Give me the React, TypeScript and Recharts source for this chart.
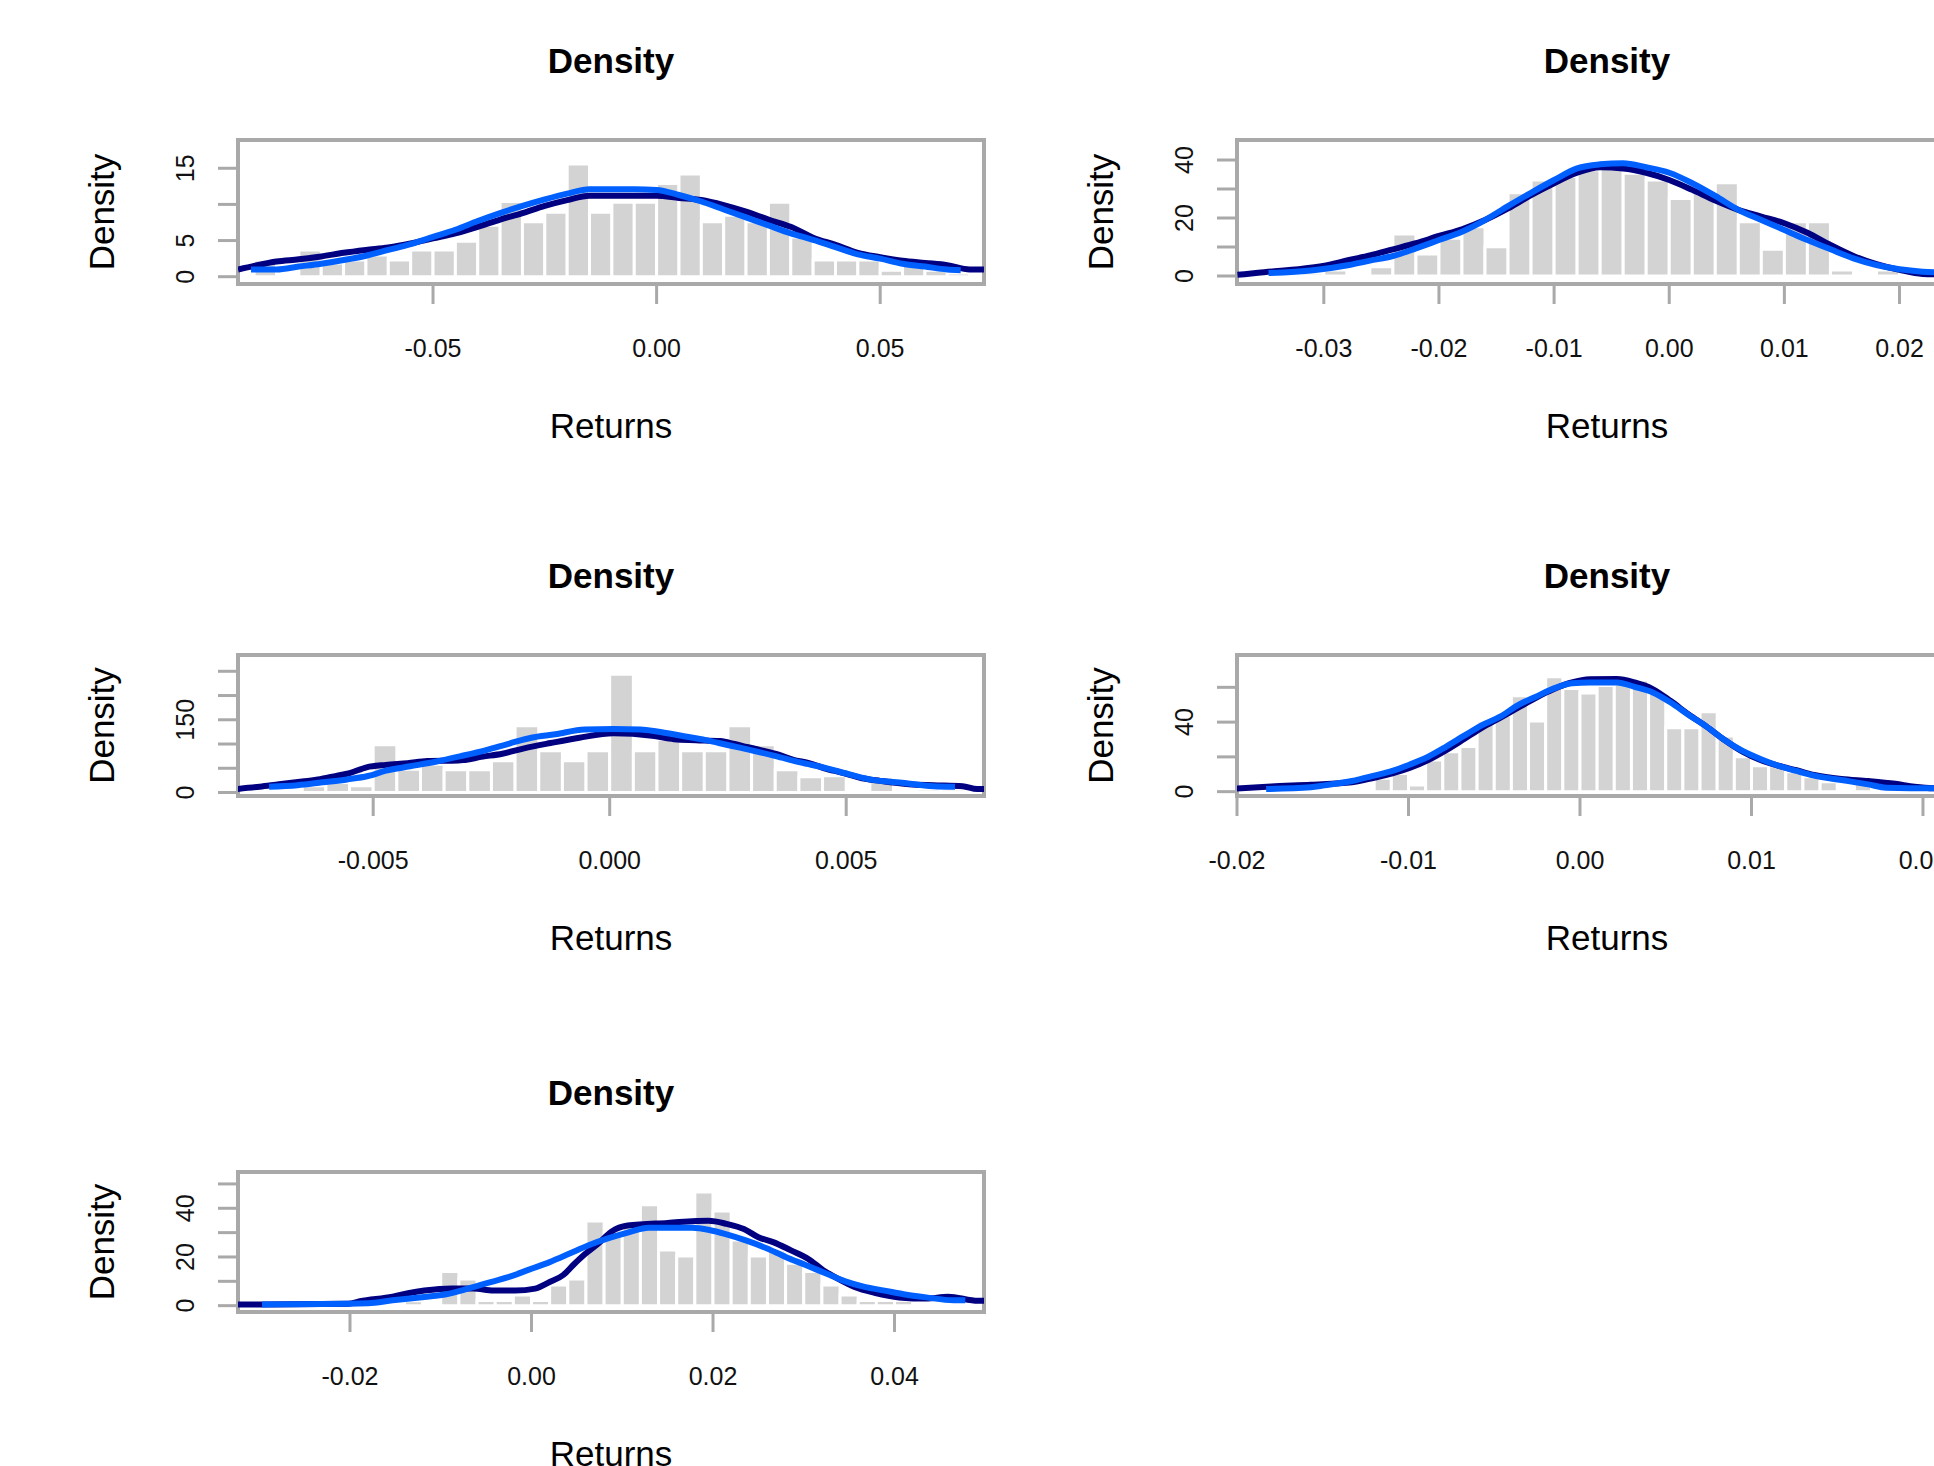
import { ComposedChart, Line, ReferenceArea, XAxis, YAxis } from "recharts";

const FONT = '"Liberation Sans", Arial, Helvetica, sans-serif';
const AXIS_GRAY = "#A9A9A9";
const BAR_GRAY = "#D3D3D3";
const KDE_COLOR = "#000080";
const FIT_COLOR = "#0060FF";

// ---- panel 1 ----
const p1BinStart = -0.09;
const p1BinWidth = 0.005;
const p1Density = [
  2.3, 0, 3.7, 1.9, 2.3, 3.0, 2.3, 3.7, 3.7, 4.9, 7.1, 10.4, 7.6, 8.9, 15.6, 8.9,
  10.3, 10.3, 12.9, 14.2, 7.6, 8.5, 7.6, 10.3, 5.5, 2.3, 2.3, 2.3, 0.9, 1.6, 0.9, 0.5,
];
const p1KdeX = [
  -0.0936, -0.09, -0.085, -0.08, -0.075, -0.07, -0.065, -0.06, -0.055, -0.05, -0.045,
  -0.04, -0.035, -0.03, -0.025, -0.02, -0.015, -0.01, -0.005, 0, 0.005, 0.01, 0.015,
  0.02, 0.025, 0.03, 0.035, 0.04, 0.045, 0.05, 0.055, 0.06, 0.065, 0.07, 0.0732,
];
const p1KdeY = [
  1.0, 1.5, 2.1, 2.4, 2.8, 3.3, 3.7, 4.05, 4.6, 5.3, 6.0, 6.9, 7.9, 8.8, 9.8, 10.6,
  11.2, 11.2, 11.2, 11.2, 10.9, 10.6, 9.9, 9.0, 7.9, 6.9, 5.4, 4.4, 3.3, 2.7, 2.2, 1.9,
  1.6, 1.0, 1.0,
];
const p1FitX = [
  -0.0907, -0.085, -0.08, -0.075, -0.07, -0.065, -0.06, -0.055, -0.05, -0.045, -0.04,
  -0.035, -0.03, -0.025, -0.02, -0.015, -0.01, -0.005, 0, 0.005, 0.01, 0.015, 0.02,
  0.025, 0.03, 0.035, 0.04, 0.045, 0.05, 0.055, 0.06, 0.065, 0.068,
];
const p1FitY = [
  1.0, 1.0, 1.4, 1.8, 2.3, 2.9, 3.7, 4.5, 5.5, 6.5, 7.7, 8.8, 9.8, 10.7, 11.5, 12.1,
  12.1, 12.1, 12.0, 11.3, 10.4, 9.3, 8.2, 7.1, 6.0, 5.1, 4.1, 3.1, 2.5, 1.8, 1.4, 1.0, 0.9,
];
const p1XTicks = [-0.05, 0, 0.05];
const p1XLabels = ["-0.05", "0.00", "0.05"];
const p1YTicks = [0, 5, 10, 15];
const p1YLabels = ["0", "5", "", "15"];

// ---- panel 2 ----
const p2BinStart = -0.032;
const p2BinWidth = 0.002;
const p2Density = [
  1.1, 2.1, 0, 3.2, 14.5, 7.6, 13.0, 17.0, 10.1, 28.7, 33.1, 34.3, 36.6, 37.7, 35.4,
  33.1, 26.7, 29.1, 32.2, 18.7, 9.2, 18.7, 18.7, 2.1, 0, 2.1,
];
const p2KdeX = [
  -0.0375, -0.0357, -0.0317, -0.0296, -0.0278, -0.026, -0.024, -0.022, -0.02, -0.018,
  -0.016, -0.014, -0.012, -0.01, -0.008, -0.006, -0.004, -0.002, 0, 0.002, 0.004, 0.006,
  0.008, 0.01, 0.012, 0.014, 0.016, 0.018, 0.02, 0.022, 0.0267,
];
const p2KdeY = [
  0.4, 1.1, 2.6, 3.8, 5.5, 7.1, 9.2, 11.3, 13.8, 16.1, 19.3, 23.3, 27.9, 32.0, 35.6,
  37.5, 37.1, 35.6, 33.1, 29.7, 26.0, 22.8, 20.5, 18.2, 14.9, 10.7, 6.9, 4.1, 2.1, 0.7, 0.3,
];
const p2FitX = [
  -0.0348, -0.0309, -0.0278, -0.026, -0.024, -0.022, -0.02, -0.018, -0.016, -0.014,
  -0.012, -0.01, -0.008, -0.006, -0.004, -0.002, 0, 0.002, 0.004, 0.006, 0.008, 0.01,
  0.012, 0.014, 0.016, 0.018, 0.02, 0.022, 0.0267,
];
const p2FitY = [
  1.0, 2.0, 3.8, 5.3, 6.9, 9.5, 12.4, 15.3, 19.3, 24.1, 28.7, 33.1, 37.1, 38.5, 38.9,
  37.5, 35.6, 32.0, 27.6, 22.8, 19.3, 15.9, 12.4, 9.2, 6.1, 3.8, 2.3, 1.5, 0.9,
];
const p2XTicks = [-0.03, -0.02, -0.01, 0, 0.01, 0.02];
const p2XLabels = ["-0.03", "-0.02", "-0.01", "0.00", "0.01", "0.02"];
const p2YTicks = [0, 10, 20, 30, 40];
const p2YLabels = ["0", "", "20", "", "40"];

// ---- panel 3 ----
const p3BinStart = -0.0075;
const p3BinWidth = 0.0005;
const p3Density = [
  5.5, 0, 13.7, 20.6, 13.7, 98.3, 48.1, 58.4, 46.8, 46.8, 65.3, 137.5, 85.9, 65.3, 85.9,
  244, 85.9, 110, 85.9, 85.9, 137.5, 98.3, 46.8, 32.3, 34.4, 0, 32.3, 0, 6.9, 6.9,
];
const p3KdeX = [
  -0.00791, -0.0074, -0.00699, -0.0065, -0.00612, -0.00578, -0.0055, -0.00514, -0.00473,
  -0.00427, -0.00386, -0.0032, -0.00268, -0.00227, -0.00181, -0.00125, -0.00064, 0.00008,
  0.0009, 0.00136, 0.00182, 0.00234, 0.00264, 0.0029, 0.00321, 0.00357, 0.00387, 0.00423,
  0.00454, 0.0049, 0.00531, 0.00572, 0.00633, 0.00684, 0.00746, 0.00777, 0.00797,
];
const p3KdeY = [
  6.9, 12, 17, 22.7, 27.5, 34.4, 40, 52, 57, 60.5, 65, 66, 74, 80, 91, 102, 113, 122,
  117, 110, 108, 106, 100, 94, 87, 78, 68, 60, 50, 41, 30, 24, 17, 15, 13, 7, 7,
];
const p3FitX = [
  -0.0072, -0.0066, -0.00607, -0.00555, -0.00511, -0.00473, -0.00422, -0.00366, -0.00315,
  -0.00263, -0.00212, -0.00166, -0.00115, -0.00053, 0.00008, 0.00065, 0.001, 0.00157,
  0.00203, 0.00249, 0.003, 0.00351, 0.00403, 0.00454, 0.00505, 0.00556, 0.00613, 0.00684,
  0.0073,
];
const p3FitY = [
  12, 15, 21, 27, 34, 45, 54, 64, 75, 87, 101, 113, 120, 130, 131, 130, 126, 116, 108,
  98, 87, 75, 62, 51, 38, 26, 20.6, 13, 12,
];
const p3XTicks = [-0.005, 0, 0.005];
const p3XLabels = ["-0.005", "0.000", "0.005"];
const p3YTicks = [0, 50, 100, 150, 200, 250];
const p3YLabels = ["0", "", "", "150", "", ""];

// ---- panel 4 ----
const p4BinStart = -0.016;
const p4BinWidth = 0.001;
const p4Density = [
  1.5, 0, 1.5, 1.5, 7.7, 10.5, 3.8, 18.2, 23, 25.9, 40.6, 44, 55.2, 40.6, 66.1, 59.4,
  56.7, 61, 62, 64.2, 56.5, 36.8, 36.8, 46, 32, 20.1, 14.9, 14.9, 11.5, 8.6, 5.7, 0, 7.3, 1.5,
];
const p4KdeX = [
  -0.0201, -0.018, -0.0157, -0.0133, -0.012, -0.01094, -0.0099, -0.00885, -0.0078,
  -0.00675, -0.00571, -0.00466, -0.00361, -0.00257, -0.00152, -0.00047, 0.00058, 0.00215,
  0.00319, 0.00424, 0.00529, 0.00634, 0.00738, 0.00843, 0.00948, 0.01052, 0.01157,
  0.01262, 0.01366, 0.01524, 0.01681, 0.01838, 0.0195, 0.0207, 0.0232,
];
const p4KdeY = [
  1.7, 3.0, 4.0, 5.4, 8.0, 10.5, 13.8, 18.2, 23.9, 30.3, 36.8, 42.5, 48.3, 54, 59, 62.8,
  64.6, 64.8, 62.8, 59, 52.1, 44.4, 37.4, 29.7, 23, 18.2, 14.9, 12.3, 9.6, 7.3, 6.1, 4.5,
  2.8, 1.9, 1.7,
];
const p4FitX = [
  -0.0183, -0.0157, -0.0149, -0.0133, -0.012, -0.01094, -0.0099, -0.00885, -0.0078,
  -0.00675, -0.00571, -0.00466, -0.00361, -0.00257, -0.00152, -0.00047, 0.00058, 0.00215,
  0.00319, 0.00424, 0.00529, 0.00634, 0.00738, 0.00843, 0.00948, 0.01052, 0.01157,
  0.01262, 0.01366, 0.01524, 0.01681, 0.01785, 0.0207, 0.0232,
];
const p4FitY = [
  1.5, 2.5, 3.6, 6.1, 9.2, 11.9, 15.7, 20.1, 25.9, 32.2, 38.3, 43.1, 49.8, 54.6, 59.4,
  62.3, 62.8, 62.8, 60.3, 57.1, 51.3, 44.1, 37.4, 29.7, 23.4, 18.8, 14.9, 11.9, 9.2, 6.7,
  4.2, 2.3, 1.9, 1.9,
];
const p4XTicks = [-0.02, -0.01, 0, 0.01, 0.02];
const p4XLabels = ["-0.02", "-0.01", "0.00", "0.01", "0.02"];
const p4YTicks = [0, 20, 40, 60];
const p4YLabels = ["0", "", "40", ""];

// ---- panel 5 ----
const p5BinStart = -0.018;
const p5BinWidth = 0.002;
const p5Density = [
  3, 0, 2, 0, 14, 11, 2.1, 2.1, 4.4, 2.1, 8.5, 11, 34.8, 29, 34.5, 41.4, 22.9, 20.4,
  46.7, 38.9, 27, 20.4, 22.9, 17.4, 14, 8.5, 4.4, 2.1, 2.1, 2.1,
];
const p5KdeX = [
  -0.0332, -0.0297, -0.0202, -0.0189, -0.0153, -0.0136, -0.0118, -0.0088, -0.0064,
  -0.0042, -0.0018, 0.0004, 0.002, 0.0035, 0.0046, 0.0059, 0.0073, 0.0088, 0.0106, 0.015,
  0.0195, 0.0215, 0.0234, 0.025, 0.0267, 0.0286, 0.0305, 0.0321, 0.0337, 0.0356, 0.0378,
  0.0405, 0.0435, 0.0459, 0.0492, 0.0508,
];
const p5KdeY = [
  0.5, 0.5, 0.8, 1.8, 3.7, 5.1, 6.2, 7.1, 7.1, 6.2, 6.2, 7, 9.7, 12.6, 16.7, 21.2, 25.3,
  30.4, 32.9, 34, 34.9, 33.6, 31.5, 28.1, 26, 22.7, 19.2, 14.7, 11.2, 7.7, 5.3, 3.4, 2.9,
  3.7, 2, 2,
];
const p5FitX = [
  -0.0297, -0.018, -0.0153, -0.0118, -0.0094, -0.0069, -0.0045, -0.0023, -0.0002, 0.002,
  0.0042, 0.0063, 0.0085, 0.0107, 0.0129, 0.0153, 0.0177, 0.0196, 0.0215, 0.0237, 0.0259,
  0.028, 0.0302, 0.0324, 0.0345, 0.0367, 0.0389, 0.041, 0.0435, 0.0465, 0.0478,
];
const p5FitY = [
  0.5, 1.0, 2.2, 3.6, 4.7, 7.1, 9.7, 12, 14.9, 17.9, 21.4, 24.8, 27.7, 30.1, 32, 32, 32,
  31.1, 29.3, 26.7, 23.6, 20, 16.7, 13.3, 10.1, 7.7, 6.2, 4.7, 3.4, 2.2, 2.2,
];
const p5XTicks = [-0.02, 0, 0.02, 0.04];
const p5XLabels = ["-0.02", "0.00", "0.02", "0.04"];
const p5YTicks = [0, 10, 20, 30, 40, 50];
const p5YLabels = ["0", "", "20", "", "40", ""];

// space around each plot box inside its chart
const LEFT = 170;
const TOP = 110;
const RIGHT = 20;
const BOTTOM = 200;

type Box = { left: number; top: number; width: number; height: number };

type PanelProps = {
  box: Box;
  xDomain: [number, number];
  yDomain: [number, number];
  binStart: number;
  binWidth: number;
  density: number[];
  kdeX: number[];
  kdeY: number[];
  fitX: number[];
  fitY: number[];
  xTicks: number[];
  xLabels: string[];
  yTicks: number[];
  yLabels: string[];
};

function Panel(p: PanelProps) {
  const width = LEFT + p.box.width + RIGHT;
  const height = TOP + p.box.height + BOTTOM;
  const bins = p.density
    .map((d, i) => ({ x1: p.binStart + i * p.binWidth, x2: p.binStart + (i + 1) * p.binWidth, d }))
    .filter((b) => b.d > 0);
  const kde = p.kdeX.map((x, i) => ({ x, y: p.kdeY[i] }));
  const fit = p.fitX.map((x, i) => ({ x, y: p.fitY[i] }));
  const cx = LEFT + p.box.width / 2;
  const ylabX = LEFT - 124;
  const ylabY = TOP + p.box.height / 2;

  const xTick = (t: any) => {
    const label = p.xLabels[p.xTicks.indexOf(t.payload.value)] ?? "";
    return (
      <text x={t.x} y={t.y + 53} textAnchor="middle" fontSize={25} fontFamily={FONT} fill="#111">
        {label}
      </text>
    );
  };
  const yTick = (t: any) => {
    const label = p.yLabels[p.yTicks.indexOf(t.payload.value)] ?? "";
    const bx = t.x - 24;
    return (
      <text
        x={bx}
        y={t.y}
        transform={`rotate(-90 ${bx} ${t.y})`}
        textAnchor="middle"
        fontSize={25}
        fontFamily={FONT}
        fill="#111"
      >
        {label}
      </text>
    );
  };

  return (
    <div style={{ position: "absolute", left: p.box.left - LEFT, top: p.box.top - TOP, width, height }}>
      <ComposedChart
        width={width}
        height={height}
        data={kde}
        margin={{ top: TOP, right: RIGHT, bottom: 0, left: 0 }}
      >
        <XAxis
          type="number"
          dataKey="x"
          domain={p.xDomain}
          allowDataOverflow
          ticks={p.xTicks}
          interval={0}
          height={BOTTOM}
          tickSize={20}
          tickMargin={0}
          axisLine={false}
          tickLine={{ stroke: AXIS_GRAY, strokeWidth: 3 }}
          tick={xTick}
        />
        <YAxis
          type="number"
          domain={p.yDomain}
          allowDataOverflow
          ticks={p.yTicks}
          interval={0}
          width={LEFT}
          tickSize={20}
          tickMargin={0}
          axisLine={false}
          tickLine={{ stroke: AXIS_GRAY, strokeWidth: 3 }}
          tick={yTick}
        />
        {bins.map((b, i) => (
          <ReferenceArea
            key={i}
            x1={b.x1}
            x2={b.x2}
            y1={0}
            y2={b.d}
            fill={BAR_GRAY}
            fillOpacity={1}
            stroke="#ffffff"
            strokeWidth={3}
            ifOverflow="visible"
          />
        ))}
        <Line
          data={kde}
          dataKey="y"
          type="monotone"
          stroke={KDE_COLOR}
          strokeWidth={6}
          dot={false}
          isAnimationActive={false}
        />
        <Line
          data={fit}
          dataKey="y"
          type="monotone"
          stroke={FIT_COLOR}
          strokeWidth={6}
          dot={false}
          isAnimationActive={false}
        />
        <ReferenceArea
          x1={p.xDomain[0]}
          x2={p.xDomain[1]}
          y1={p.yDomain[0]}
          y2={p.yDomain[1]}
          fill="none"
          fillOpacity={0}
          stroke={AXIS_GRAY}
          strokeWidth={4}
          ifOverflow="visible"
        />
      </ComposedChart>
      <svg
        width={width}
        height={height}
        style={{ position: "absolute", left: 0, top: 0, pointerEvents: "none" }}
      >
        <text x={cx} y={TOP - 67} textAnchor="middle" fontSize={35} fontWeight="bold" fontFamily={FONT} fill="#000">
          Density
        </text>
        <text x={cx} y={TOP + p.box.height + 154} textAnchor="middle" fontSize={35} fontFamily={FONT} fill="#000">
          Returns
        </text>
        <text
          x={ylabX}
          y={ylabY}
          transform={`rotate(-90 ${ylabX} ${ylabY})`}
          textAnchor="middle"
          fontSize={35}
          fontFamily={FONT}
          fill="#000"
        >
          Density
        </text>
      </svg>
    </div>
  );
}

export default function App() {
  return (
    <div
      style={{
        position: "absolute",
        left: 0,
        top: 0,
        width: 1934,
        height: 1466,
        overflow: "hidden",
        background: "#ffffff",
      }}
    >
      <Panel
        box={{ left: 238, top: 140, width: 746, height: 144 }}
        xDomain={[-0.09361, 0.07321]}
        yDomain={[-1.01, 18.91]}
        binStart={p1BinStart}
        binWidth={p1BinWidth}
        density={p1Density}
        kdeX={p1KdeX}
        kdeY={p1KdeY}
        fitX={p1FitX}
        fitY={p1FitY}
        xTicks={p1XTicks}
        xLabels={p1XLabels}
        yTicks={p1YTicks}
        yLabels={p1YLabels}
      />
      <Panel
        box={{ left: 1237, top: 140, width: 740, height: 144 }}
        xDomain={[-0.03754, 0.02673]}
        yDomain={[-2.76, 46.9]}
        binStart={p2BinStart}
        binWidth={p2BinWidth}
        density={p2Density}
        kdeX={p2KdeX}
        kdeY={p2KdeY}
        fitX={p2FitX}
        fitY={p2FitY}
        xTicks={p2XTicks}
        xLabels={p2XLabels}
        yTicks={p2YTicks}
        yLabels={p2YLabels}
      />
      <Panel
        box={{ left: 238, top: 655, width: 746, height: 141 }}
        xDomain={[-0.007858, 0.007913]}
        yDomain={[-7.2, 283.6]}
        binStart={p3BinStart}
        binWidth={p3BinWidth}
        density={p3Density}
        kdeX={p3KdeX}
        kdeY={p3KdeY}
        fitX={p3FitX}
        fitY={p3FitY}
        xTicks={p3XTicks}
        xLabels={p3XLabels}
        yTicks={p3YTicks}
        yLabels={p3YLabels}
      />
      <Panel
        box={{ left: 1237, top: 655, width: 740, height: 141 }}
        xDomain={[-0.02, 0.02315]}
        yDomain={[-2.5, 78.6]}
        binStart={p4BinStart}
        binWidth={p4BinWidth}
        density={p4Density}
        kdeX={p4KdeX}
        kdeY={p4KdeY}
        fitX={p4FitX}
        fitY={p4FitY}
        xTicks={p4XTicks}
        xLabels={p4XLabels}
        yTicks={p4YTicks}
        yLabels={p4YLabels}
      />
      <Panel
        box={{ left: 238, top: 1172, width: 746, height: 140 }}
        xDomain={[-0.03234, 0.04986]}
        yDomain={[-2.6, 54.9]}
        binStart={p5BinStart}
        binWidth={p5BinWidth}
        density={p5Density}
        kdeX={p5KdeX}
        kdeY={p5KdeY}
        fitX={p5FitX}
        fitY={p5FitY}
        xTicks={p5XTicks}
        xLabels={p5XLabels}
        yTicks={p5YTicks}
        yLabels={p5YLabels}
      />
    </div>
  );
}
